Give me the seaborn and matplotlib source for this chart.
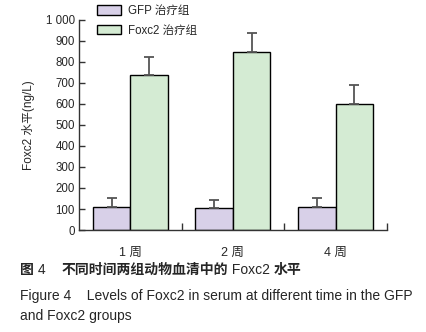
import pandas as pd
import matplotlib
matplotlib.use("Agg")
import matplotlib.pyplot as plt
import seaborn as sns
import numpy as np
from matplotlib.transforms import offset_copy

# values (ng/L)
weeks = ['1 周', '2 周', '4 周']
groups = ['GFP 治疗组', 'Foxc2 治疗组']
gfp_mean = [109, 103, 108]
gfp_err = [43, 40, 44]
foxc2_mean = [735, 844, 597]
foxc2_err = [85, 92, 93]
yticks = [0, 100, 200, 300, 400, 500, 600, 700, 800, 900, 1000]
ytick_labels = ['0', '100', '200', '300', '400', '500', '600', '700', '800', '900', '1 000']

df = pd.DataFrame({
    'week': weeks * 2,
    'group': [groups[0]] * 3 + [groups[1]] * 3,
    'value': gfp_mean + foxc2_mean,
})
errs = {groups[0]: gfp_err, groups[1]: foxc2_err}

sns.set_style('white')
plt.rcParams['font.family'] = ['Liberation Sans', 'Noto Sans CJK SC']
plt.rcParams['axes.unicode_minus'] = False

fig = plt.figure(figsize=(4.27, 3.32), dpi=100)
ax = fig.add_axes([0.185, 0.307, 0.721, 0.634])

palette = {groups[0]: '#d8d0e8', groups[1]: '#d4ebd3'}
sns.barplot(data=df, x='week', y='value', hue='group', hue_order=groups,
            order=weeks, palette=palette, width=0.73, edgecolor='black',
            linewidth=1.0, saturation=1, errorbar=None, ax=ax)

# upper error bars only
for grp, cont in zip(groups, ax.containers):
    xs = [b.get_x() + b.get_width() / 2 for b in cont]
    hs = [b.get_height() for b in cont]
    e = errs[grp]
    ax.errorbar(xs, hs, yerr=[np.zeros(len(e)), e], fmt='none',
                ecolor='#555555', elinewidth=1.3, capsize=3.5, capthick=1.3,
                zorder=1)

ax.set_xlim(-0.5, 2.5)
ax.set_ylim(0, 1000)
ax.set_yticks(yticks)
ax.set_yticklabels(ytick_labels)
ax.set_xlabel('')
ax.set_ylabel('Foxc2 水平(ng/L)', fontsize=8.5, labelpad=8)

sns.despine(ax=ax)
for s in ['left', 'bottom']:
    ax.spines[s].set_color('#333333')
    ax.spines[s].set_linewidth(1.0)

ax.tick_params(axis='y', direction='in', length=4, width=1, color='#333333',
               labelsize=8.3, pad=3, left=True)
ax.tick_params(axis='x', which='major', length=0, labelsize=9, pad=12)
ax.set_xticks([0.5, 1.5, 2.5], minor=True)
ax.tick_params(axis='x', which='minor', direction='in', length=5, width=1,
               color='#333333', bottom=True)

handles, labels = ax.get_legend_handles_labels()
ax.legend(handles, labels, loc='upper left', bbox_to_anchor=(0.222, 0.9925),
          bbox_transform=fig.transFigure, frameon=False, fontsize=8.3,
          handlelength=2.1, handleheight=0.9, handletextpad=0.6,
          labelspacing=0.67, borderpad=0.2, borderaxespad=0)

# Chinese caption: Chinese characters bold, Latin text regular
renderer = fig.canvas.get_renderer()
pieces = [('图', 'bold'), (' 4    ', 'normal'),
          ('不同时间两组动物血清中的', 'bold'), (' Foxc2 ', 'normal'),
          ('水平', 'bold')]
trans = fig.transFigure
x0 = 0.047
for txt, w in pieces:
    t = fig.text(x0, 0.186, txt, fontsize=10, fontweight=w, va='center',
                 transform=trans)
    bb = t.get_window_extent(renderer=renderer)
    trans = offset_copy(t.get_transform(), fig=fig, x=bb.width, units='dots')

fig.text(0.047, 0.108, 'Figure 4    Levels of Foxc2 in serum at different time in the GFP',
         fontsize=10, va='center')
fig.text(0.047, 0.048, 'and Foxc2 groups', fontsize=10, va='center')

fig.savefig('out.png', dpi=100)
